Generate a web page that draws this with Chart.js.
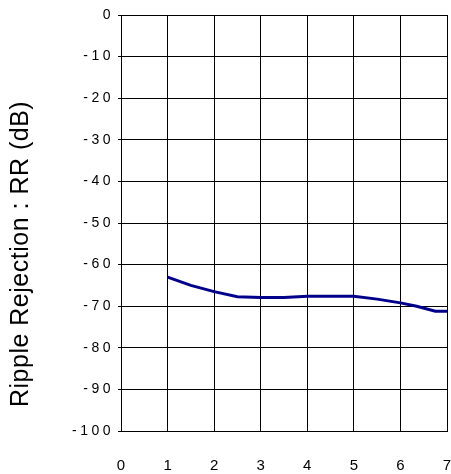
<!DOCTYPE html>
<html>
<head>
<meta charset="utf-8">
<script src="https://cdn.jsdelivr.net/npm/chart.js@4"></script>
<style>
  html, body { margin: 0; padding: 0; background: #fff; }
  #wrap { width: 451px; height: 474px; }
</style>
</head>
<body>
<div id="wrap"><canvas id="rrChart" width="451" height="474"></canvas></div>
<script>
// input voltage (V) vs ripple rejection (dB)
const rrX = [1, 1.5, 2, 2.5, 3, 3.5, 4, 4.5, 5, 5.5, 6, 6.35, 6.75, 7]
const rrY = [-63, -65, -66.5, -67.7, -67.9, -67.9, -67.6, -67.6, -67.6, -68.3, -69.2, -70.0, -71.2, -71.2]

const xTicks = [0, 1, 2, 3, 4, 5, 6, 7]
const yTicks = [0, -10, -20, -30, -40, -50, -60, -70, -80, -90, -100]
const yTitle = 'Ripple Rejection : RR (dB)'

const fontFamily = '"Liberation Sans", Arial, sans-serif'

// spaced-out tick labels like the original, title drawn by hand so it sits where the original has it
const labelStyle = {
    id: 'labelStyle',
    beforeDraw: (chart) => {
        chart.ctx.letterSpacing = '3.5px'
    },
    afterDraw: (chart) => {
        const ctx = chart.ctx
        ctx.save()
        ctx.letterSpacing = '0.5px'
        ctx.font = '25px ' + fontFamily
        ctx.fillStyle = '#000'
        ctx.textAlign = 'left'
        ctx.textBaseline = 'alphabetic'
        ctx.translate(28, 407)
        ctx.rotate(-Math.PI / 2)
        ctx.fillText(yTitle, 0, 0)
        ctx.restore()
    }
}

const points = rrX.map((x, i) => ({x, y: rrY[i]}))

const ctx = document.getElementById('rrChart').getContext('2d')
const rrChart = new Chart(ctx, {
    type: 'line',
    data: {
        datasets: [{
            data: points,
            borderColor: '#00008b',
            borderWidth: 3,
            pointRadius: 0,
            tension: 0,
            fill: false,
        }],
    },
    options: {
        responsive: false,
        animation: false,
        devicePixelRatio: 1,
        layout: {padding: {top: 15, right: 4, left: 0, bottom: 0}},
        plugins: {legend: {display: false}, tooltip: {enabled: false}},
        scales: {
            x: {
                type: 'linear',
                min: 0,
                max: 7,
                afterBuildTicks: (scale) => { scale.ticks = xTicks.map(v => ({value: v})) },
                afterFit: (scale) => {
                    scale.height = 43
                    scale.paddingLeft = 0
                    scale.paddingRight = 0
                },
                grid: {color: '#000', lineWidth: 1, drawTicks: true, tickLength: 23, tickColor: 'rgba(0,0,0,0)'},
                border: {color: '#000', width: 1},
                ticks: {
                    color: '#000',
                    padding: 3,
                    labelOffset: 1.75,
                    maxRotation: 0,
                    font: {family: fontFamily, size: 15},
                },
            },
            y: {
                min: -100,
                max: 0,
                afterBuildTicks: (scale) => { scale.ticks = yTicks.map(v => ({value: v})) },
                afterFit: (scale) => {
                    scale.width = 121
                    scale.paddingTop = 0
                    scale.paddingBottom = 0
                },
                grid: {color: '#000', lineWidth: 1, drawTicks: true, tickLength: 3},
                border: {color: '#000', width: 1},
                ticks: {
                    color: '#000',
                    padding: 4,
                    font: {family: fontFamily, size: 14},
                },
            },
        },
    },
    plugins: [labelStyle],
})
</script>
</body>
</html>
